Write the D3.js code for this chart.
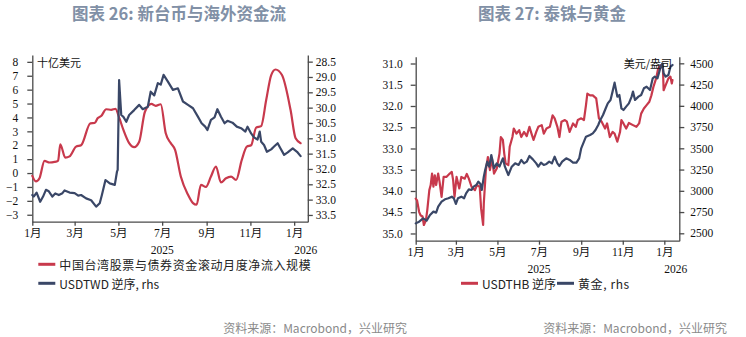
<!DOCTYPE html>
<html>
<head>
<meta charset="utf-8">
<script src="https://cdn.jsdelivr.net/npm/d3@7"></script>
<style>
  html, body { margin: 0; padding: 0; background: #fff; }
  svg { display: block; }
</style>
</head>
<body>
<svg id="chart" width="746" height="337"></svg>
<script>
// ---------------- DATA ----------------
const monthTicks = ["2025-01-01","2025-03-01","2025-05-01","2025-07-01","2025-09-01","2025-11-01","2026-01-01"];
const monthLabels = ["1月","3月","5月","7月","9月","11月","1月"];
const yearLabels = ["2025","2026"];

// Chart 26 — left axis: net inflow (十亿美元)
const flowDates = ["2025-01-01","2025-01-06","2025-01-11","2025-01-18","2025-01-25","2025-02-01","2025-02-06","2025-02-09","2025-02-16","2025-02-22","2025-03-03","2025-03-10","2025-03-23","2025-03-29","2025-04-02","2025-04-07","2025-04-14","2025-04-21","2025-04-27","2025-05-02","2025-05-08","2025-05-16","2025-05-23","2025-05-30","2025-06-07","2025-06-16","2025-06-22","2025-06-29","2025-07-06","2025-07-13","2025-07-19","2025-07-27","2025-08-06","2025-08-13","2025-08-18","2025-08-24","2025-08-31","2025-09-07","2025-09-14","2025-09-21","2025-09-28","2025-10-05","2025-10-12","2025-10-20","2025-10-27","2025-11-02","2025-11-09","2025-11-16","2025-11-23","2025-11-30","2025-12-06","2025-12-15","2025-12-27","2026-01-03","2026-01-10"];
const flowValues = [-0.2,-0.6,-0.37,0.88,0.76,0.8,0.9,2.07,1.11,1.2,1.9,2.0,3.58,3.6,3.94,4.1,4.59,4.55,4.62,4.0,3.1,2.15,1.86,2.25,4.41,4.97,4.83,4.95,2.86,2.15,1.67,-0.25,-1.56,-2.16,-2.28,-0.85,-1.0,-0.25,0.47,-0.68,-0.37,-0.25,-0.5,0.95,1.9,2.0,3.27,3.38,5.25,7.05,7.45,7.05,4.53,2.5,2.15];

// Chart 26 — right axis (reversed): USDTWD
const twdDates = ["2025-01-01","2025-01-03","2025-01-07","2025-01-12","2025-01-16","2025-01-20","2025-01-24","2025-01-29","2025-02-02","2025-02-07","2025-02-12","2025-02-15","2025-02-22","2025-03-01","2025-03-06","2025-03-10","2025-03-17","2025-03-24","2025-03-31","2025-04-05","2025-04-08","2025-04-13","2025-04-19","2025-04-26","2025-04-29","2025-04-30","2025-05-02","2025-05-05","2025-05-08","2025-05-12","2025-05-16","2025-05-23","2025-05-30","2025-06-04","2025-06-11","2025-06-15","2025-06-20","2025-06-25","2025-06-29","2025-07-03","2025-07-09","2025-07-16","2025-07-23","2025-07-30","2025-08-06","2025-08-13","2025-08-20","2025-08-25","2025-08-30","2025-09-02","2025-09-07","2025-09-12","2025-09-16","2025-09-21","2025-09-26","2025-09-30","2025-10-07","2025-10-13","2025-10-19","2025-10-25","2025-10-28","2025-11-02","2025-11-06","2025-11-11","2025-11-14","2025-11-16","2025-11-20","2025-11-24","2025-11-30","2025-12-04","2025-12-09","2025-12-13","2025-12-18","2025-12-23","2025-12-30","2026-01-05","2026-01-10"];
const twdValues = [32.85,32.9,32.77,33.07,32.9,32.68,32.73,32.9,32.8,32.85,32.79,32.7,32.77,32.79,32.87,32.85,32.96,33.02,33.23,33.12,32.85,32.36,32.47,32.52,32.09,32.03,29.1,30.24,30.3,30.46,30.24,30.08,29.91,30.05,29.97,29.48,29.6,29.2,29.25,28.93,29.15,29.42,29.37,29.8,29.91,30.02,30.3,30.51,30.62,30.73,30.4,30.32,30.05,30.3,30.51,30.43,30.49,30.62,30.67,30.78,30.62,30.84,30.97,31.04,30.78,31.11,31.22,31.44,31.36,31.27,31.16,31.33,31.54,31.46,31.33,31.44,31.58];

// Chart 27 — left axis (reversed): USDTHB
const thbDates = ["2025-01-01","2025-01-03","2025-01-06","2025-01-08","2025-01-11","2025-01-13","2025-01-16","2025-01-18","2025-01-21","2025-01-23","2025-01-25","2025-01-27","2025-01-29","2025-01-31","2025-02-03","2025-02-05","2025-02-08","2025-02-11","2025-02-15","2025-02-20","2025-02-23","2025-02-25","2025-02-27","2025-03-02","2025-03-06","2025-03-09","2025-03-14","2025-03-17","2025-03-20","2025-03-24","2025-03-29","2025-04-01","2025-04-05","2025-04-07","2025-04-10","2025-04-11","2025-04-14","2025-04-17","2025-04-20","2025-04-23","2025-04-26","2025-04-30","2025-05-04","2025-05-06","2025-05-09","2025-05-11","2025-05-13","2025-05-17","2025-05-19","2025-05-23","2025-05-25","2025-05-29","2025-06-02","2025-06-05","2025-06-09","2025-06-13","2025-06-17","2025-06-20","2025-06-23","2025-06-27","2025-06-30","2025-07-05","2025-07-08","2025-07-12","2025-07-17","2025-07-21","2025-07-24","2025-07-28","2025-07-31","2025-08-03","2025-08-08","2025-08-11","2025-08-15","2025-08-20","2025-08-24","2025-08-27","2025-09-01","2025-09-05","2025-09-08","2025-09-10","2025-09-14","2025-09-18","2025-09-23","2025-09-27","2025-10-01","2025-10-06","2025-10-09","2025-10-13","2025-10-17","2025-10-20","2025-10-24","2025-10-28","2025-10-30","2025-11-02","2025-11-06","2025-11-10","2025-11-16","2025-11-21","2025-11-25","2025-11-28","2025-12-02","2025-12-06","2025-12-10","2025-12-13","2025-12-16","2025-12-20","2025-12-23","2025-12-27","2025-12-30","2025-12-31","2026-01-03","2026-01-07","2026-01-10","2026-01-12","2026-01-13"];
const thbValues = [34.18,34.22,34.49,34.57,34.6,34.8,34.69,34.45,33.98,33.86,33.59,33.9,33.63,33.86,33.59,33.78,34.14,33.67,33.67,33.59,33.55,33.75,34.14,33.67,33.94,33.67,33.71,33.6,33.71,33.9,33.98,33.86,33.9,34.41,34.8,34.29,33.51,33.2,33.51,33.24,33.59,33.47,33.12,32.73,32.8,33.12,33.35,33.39,32.96,32.73,32.53,32.65,32.57,32.73,32.61,32.71,32.49,32.65,32.8,32.61,32.49,32.45,32.65,32.53,32.49,32.22,32.29,32.49,32.73,32.37,32.33,32.37,32.61,32.41,32.49,32.33,32.29,32.33,31.98,31.71,31.75,31.75,31.82,32.29,32.37,32.53,32.41,32.73,32.61,32.65,32.84,32.61,32.33,32.41,32.53,32.4,32.45,32.49,32.41,32.18,32.06,31.98,31.9,31.75,31.55,31.35,31.12,31.04,31.12,31.63,31.51,31.35,31.31,31.47,31.39];

// Chart 27 — right axis: gold (美元/盎司)
const goldDates = ["2025-01-01","2025-01-06","2025-01-12","2025-01-17","2025-01-22","2025-01-27","2025-01-31","2025-02-03","2025-02-08","2025-02-13","2025-02-18","2025-02-23","2025-02-26","2025-03-01","2025-03-04","2025-03-09","2025-03-13","2025-03-16","2025-03-20","2025-03-24","2025-03-27","2025-03-31","2025-04-03","2025-04-06","2025-04-08","2025-04-11","2025-04-13","2025-04-16","2025-04-19","2025-04-22","2025-04-26","2025-04-30","2025-05-04","2025-05-07","2025-05-09","2025-05-12","2025-05-17","2025-05-22","2025-05-27","2025-06-01","2025-06-05","2025-06-09","2025-06-13","2025-06-17","2025-06-22","2025-06-27","2025-06-30","2025-07-04","2025-07-08","2025-07-12","2025-07-16","2025-07-20","2025-07-24","2025-07-28","2025-07-31","2025-08-04","2025-08-10","2025-08-15","2025-08-20","2025-08-25","2025-08-29","2025-09-01","2025-09-05","2025-09-08","2025-09-14","2025-09-18","2025-09-22","2025-09-26","2025-09-29","2025-10-03","2025-10-07","2025-10-10","2025-10-14","2025-10-17","2025-10-20","2025-10-24","2025-10-27","2025-10-30","2025-11-02","2025-11-06","2025-11-10","2025-11-14","2025-11-16","2025-11-19","2025-11-24","2025-11-28","2025-12-02","2025-12-06","2025-12-11","2025-12-15","2025-12-18","2025-12-22","2025-12-26","2025-12-29","2025-12-31","2026-01-03","2026-01-07","2026-01-10","2026-01-13"];
const goldValues = [2617,2637,2676,2649,2716,2755,2743,2814,2872,2900,2912,2931,2912,2845,2912,2931,2912,2970,3017,3010,3049,3068,3108,3080,3010,3167,3245,3343,3284,3421,3265,3323,3284,3343,3382,3284,3186,3284,3323,3304,3363,3323,3343,3410,3370,3323,3284,3331,3304,3316,3343,3323,3402,3323,3292,3343,3382,3363,3331,3331,3382,3500,3578,3637,3657,3676,3716,3774,3833,3892,3971,4029,4069,4167,4273,4108,4127,3971,3951,3990,4029,4108,4167,4069,4108,4127,4206,4225,4186,4324,4343,4324,4441,4500,4382,4343,4363,4461,4480];

const leftTicks26 = [-3,-2,-1,0,1,2,3,4,5,6,7,8];
const rightTicks26 = [28.5,29.0,29.5,30.0,30.5,31.0,31.5,32.0,32.5,33.0,33.5];
const leftTicks27 = [31.0,31.5,32.0,32.5,33.0,33.5,34.0,34.5,35.0];
const rightTicks27 = [2500,2750,3000,3250,3500,3750,4000,4250,4500];

const titles = ["图表 26: 新台币与海外资金流", "图表 27: 泰铢与黄金"];
const unitLabels = ["十亿美元", "美元/盎司"];
const legend26 = ["中国台湾股票与债券资金滚动月度净流入规模", "USDTWD 逆序, rhs"];
const legend27 = ["USDTHB 逆序", "黄金, rhs"];
const sourceText = "资料来源：Macrobond，兴业研究";

// ---------------- STYLE ----------------
const RED = "#c8394c";
const NAVY = "#3a4767";
const AXIS = "#4a4a4a";
const TITLE = "#8190a6";
const tickFont = "'Liberation Serif','Times New Roman','Noto Sans CJK SC',serif";
const cjkFont = "'Noto Sans CJK SC','Noto Sans',sans-serif";

const parse = d3.timeParse("%Y-%m-%d");
const svg = d3.select("#chart");

function zip(dates, vals) { return dates.map((d, i) => ({ date: parse(d), v: vals[i] })); }

function styleAxis(g) {
  g.select(".domain").attr("stroke", AXIS).attr("stroke-width", 1.3);
  g.selectAll(".tick line").attr("stroke", AXIS).attr("stroke-width", 1.3);
  g.selectAll(".tick text").attr("fill", "#111").style("font-family", tickFont).style("font-size", "11.5px");
}

function panel(cfg) {
  const x = d3.scaleTime().domain([parse("2025-01-01"), parse(cfg.xEnd)]).range([cfg.left, cfg.right]);
  const yL = d3.scaleLinear().domain(cfg.yLDomain).range([cfg.bottom, cfg.top]);
  const yR = d3.scaleLinear().domain(cfg.yRDomain).range([cfg.bottom, cfg.top]);

  const g = svg.append("g");

  const xa = g.append("g").attr("transform", `translate(0,${cfg.bottom})`)
    .call(d3.axisBottom(x).tickValues(monthTicks.map(parse))
      .tickFormat((d, i) => monthLabels[i]).tickSize(4).tickSizeOuter(0).tickPadding(3));
  styleAxis(xa);

  g.append("text").attr("x", x(parse("2025-07-01"))).attr("y", cfg.bottom + 28)
    .attr("text-anchor", "middle").attr("dominant-baseline", "central")
    .style("font-family", tickFont).style("font-size", "11.5px").attr("fill", "#111").text(yearLabels[0]);
  g.append("text").attr("x", x(parse("2026-01-01"))).attr("y", cfg.bottom + 28)
    .attr("text-anchor", "start").attr("dominant-baseline", "central")
    .style("font-family", tickFont).style("font-size", "11.5px").attr("fill", "#111").text(yearLabels[1]);

  const la = g.append("g").attr("transform", `translate(${cfg.left},0)`)
    .call(d3.axisLeft(yL).tickValues(cfg.lTicks).tickFormat(cfg.lFmt)
      .tickSize(5).tickSizeOuter(0).tickPadding(cfg.lPad));
  styleAxis(la);

  const ra = g.append("g").attr("transform", `translate(${cfg.right},0)`)
    .call(d3.axisRight(yR).tickValues(cfg.rTicks).tickFormat(cfg.rFmt)
      .tickSize(5).tickSizeOuter(0).tickPadding(cfg.rPad));
  styleAxis(ra);

  cfg.series.forEach(s => {
    const sc = s.axis === "L" ? yL : yR;
    const line = d3.line().x(d => x(d.date)).y(d => sc(d.v)).curve(s.smooth ? d3.curveMonotoneX : d3.curveLinear);
    g.append("path").datum(s.data).attr("d", line)
      .attr("fill", "none").attr("stroke", s.color).attr("stroke-width", 2.2)
      .attr("stroke-linejoin", "round").attr("stroke-linecap", "round");
  });

  return g;
}

// ---------------- PANEL 26 ----------------
panel({
  left: 32.3, right: 307.8, top: 54.9, bottom: 221.7, xEnd: "2026-01-20",
  yLDomain: [-3.5, 8.5], yRDomain: [33.72, 28.28],
  lTicks: leftTicks26, rTicks: rightTicks26,
  lFmt: d3.format("d"), rFmt: d3.format(".1f"), lPad: 9, rPad: 3,
  series: [
    { data: zip(flowDates, flowValues), axis: "L", color: RED, smooth: true },
    { data: zip(twdDates, twdValues), axis: "R", color: NAVY }
  ]
});

// ---------------- PANEL 27 ----------------
panel({
  left: 415.7, right: 679.3, top: 56.7, bottom: 240.7, xEnd: "2026-01-23",
  yLDomain: [35.17, 30.84], yRDomain: [2413, 4578],
  lTicks: leftTicks27, rTicks: rightTicks27,
  lFmt: d3.format(".1f"), rFmt: d3.format("d"), lPad: 8, rPad: 6,
  series: [
    { data: zip(thbDates, thbValues), axis: "L", color: RED },
    { data: zip(goldDates, goldValues), axis: "R", color: NAVY }
  ]
});

// ---------------- TEXT ----------------
svg.append("text").attr("x", 179).attr("y", 13).attr("text-anchor", "middle").attr("dominant-baseline", "central")
  .style("font-family", cjkFont).style("font-size", "16.5px").style("font-weight", "700").attr("fill", TITLE).text(titles[0]);
svg.append("text").attr("x", 552).attr("y", 13).attr("text-anchor", "middle").attr("dominant-baseline", "central")
  .style("font-family", cjkFont).style("font-size", "16.5px").style("font-weight", "700").attr("fill", TITLE).text(titles[1]);

svg.append("text").attr("x", 37).attr("y", 62).attr("dominant-baseline", "central")
  .style("font-family", cjkFont).style("font-size", "11px").attr("fill", "#111").text(unitLabels[0]);
svg.append("text").attr("x", 672).attr("y", 63).attr("text-anchor", "end").attr("dominant-baseline", "central")
  .style("font-family", cjkFont).style("font-size", "11px").attr("fill", "#111").text(unitLabels[1]);

function legendItem(x0, y, color, label, spacing) {
  svg.append("line").attr("x1", x0).attr("x2", x0 + 17).attr("y1", y).attr("y2", y)
    .attr("stroke", color).attr("stroke-width", 3);
  svg.append("text").attr("x", x0 + 21).attr("y", y).attr("dominant-baseline", "central")
    .style("font-family", cjkFont).style("font-size", "12px").style("letter-spacing", spacing + "px")
    .attr("fill", "#222").text(label);
}
legendItem(38.3, 264.3, RED, legend26[0], 0.6);
legendItem(38.3, 283.3, NAVY, legend26[1], 0);
legendItem(461, 283.3, RED, legend27[0], 0);
legendItem(557, 283.3, NAVY, legend27[1], 0.6);

svg.append("text").attr("x", 407).attr("y", 327).attr("text-anchor", "end").attr("dominant-baseline", "central")
  .style("font-family", cjkFont).style("font-size", "12px").attr("fill", "#8a8a8a").text(sourceText);
svg.append("text").attr("x", 727).attr("y", 327).attr("text-anchor", "end").attr("dominant-baseline", "central")
  .style("font-family", cjkFont).style("font-size", "12px").attr("fill", "#8a8a8a").text(sourceText);
</script>
</body>
</html>
